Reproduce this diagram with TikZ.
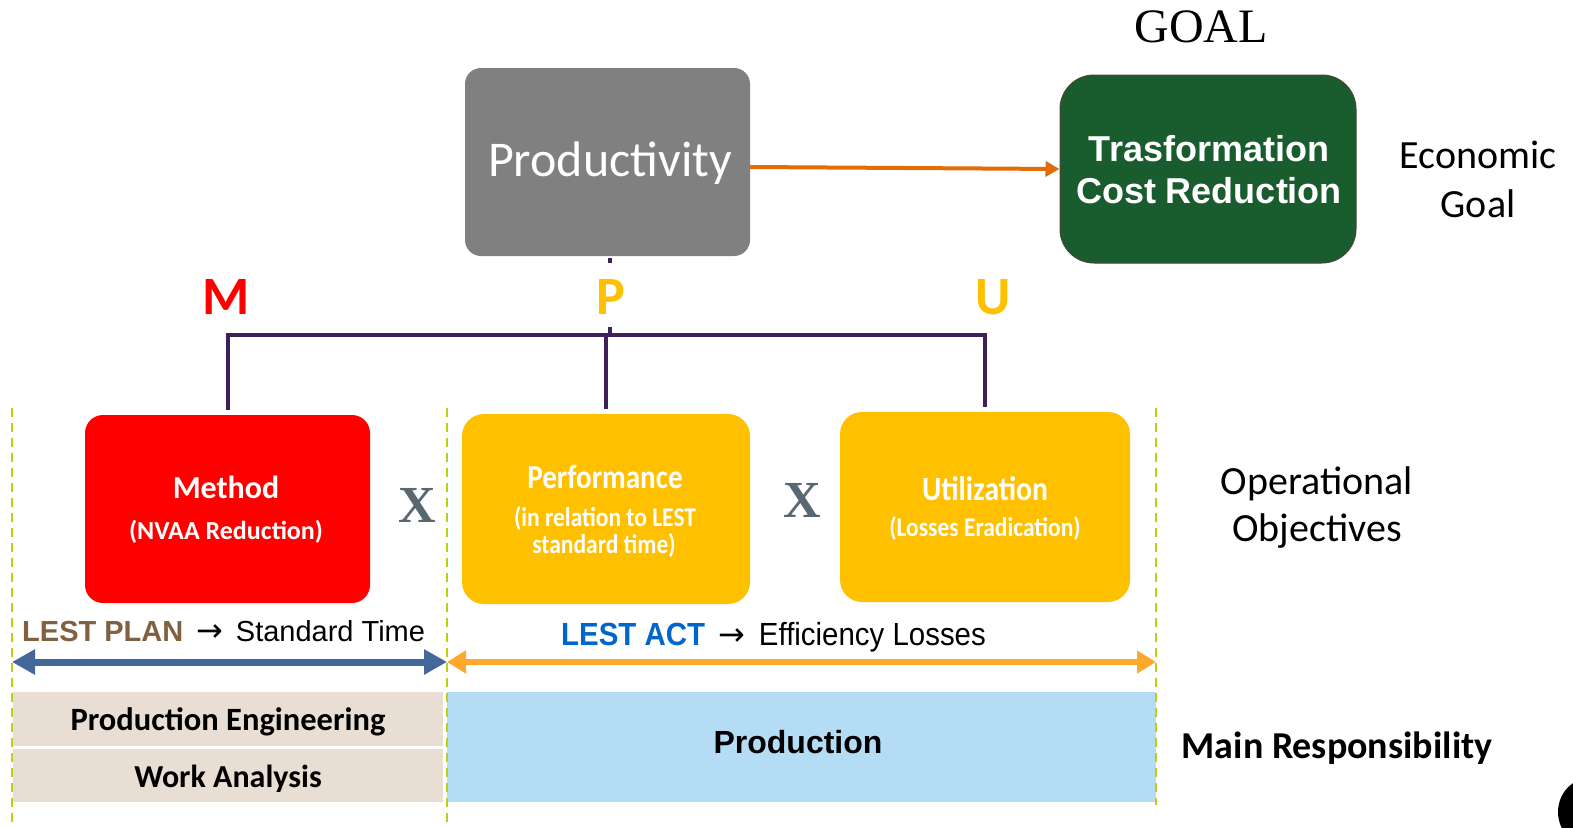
\documentclass[tikz,border=0pt]{standalone}
\usepackage{fontspec}
\setmainfont{Carlito}
\newfontfamily\arialf{Liberation Sans}
\newfontfamily\arialnf[FakeStretch=0.92]{Liberation Sans}
\newfontfamily\tnrf{Liberation Serif}
\newfontfamily\carlcf[FakeStretch=0.87]{Carlito}
\newfontfamily\symf{DejaVu Sans}
\usetikzlibrary{arrows.meta}
\newcommand\fsz[2]{\fontsize{#1}{#2}\selectfont}
\definecolor{prodgray}{RGB}{128,128,128}
\definecolor{goalgreen}{RGB}{25,92,46}
\definecolor{goalborder}{RGB}{75,70,55}
\definecolor{arrorange}{RGB}{226,108,10}
\definecolor{brpurple}{RGB}{64,32,88}
\definecolor{myyellow}{RGB}{255,192,0}
\definecolor{dashgreen}{RGB}{185,208,20}
\definecolor{planblue}{RGB}{68,103,154}
\definecolor{actorange}{RGB}{255,168,46}
\definecolor{beige}{RGB}{232,222,211}
\definecolor{lightblue}{RGB}{180,220,245}
\definecolor{planbrown}{RGB}{128,96,64}
\definecolor{actblue}{RGB}{0,102,204}
\definecolor{xgray}{RGB}{89,103,112}
\begin{document}
\begin{tikzpicture}[x=1pt,y=-1pt,
  box/.style={rounded corners=#1, inner sep=0pt, draw=none},
  box/.default=18pt,
  bracket/.style={draw=brpurple, line width=4pt},
  vdash/.style={draw=dashgreen, line width=2pt, dash pattern=on 9pt off 6pt},
  lbl/.style={inner sep=0pt, align=center},
  wlbl/.style={inner sep=0pt, text=white},
  bigx/.style={inner sep=0pt, text=xgray, font=\tnrf\bfseries\fsz{52}{52}},
  letter/.style={inner sep=0pt, font=\bfseries\fsz{54}{54}},
  band/.style={inner sep=0pt, draw=none}
]
\path[use as bounding box] (0,0) rectangle (1573,827);
\clip (0,0) rectangle (1573,827);
\fill[white] (0,0) rectangle (1573,827);

% top row
\node[lbl, font=\tnrf\fsz{48}{48}] (goaltitle) at (1201,27) {GOAL};
\node[box=16pt, fill=prodgray, minimum width=285pt, minimum height=188pt] (prod) at (607.5,162) {};
\node[wlbl, font=\fsz{50}{50}] (prodtext) at (610,163) {Productivity};
\node[box=34pt, fill=goalgreen, draw=goalborder, line width=1pt, minimum width=296pt, minimum height=188pt] (goal) at (1208,169) {};
\node[wlbl, align=center, font=\arialf\bfseries\fsz{36}{42}] (goaltext) at (1209,170) {Trasformation\\Cost Reduction};
\node[lbl, font=\fsz{40}{49}] (econ) at (1478,179) {Economic\\Goal};
\draw[draw=arrorange, line width=4pt, -{Triangle[length=14pt,width=15pt]}] ([yshift=-5pt]prod.east) -- (goal.west);

% letters
\node[letter, text=red] (mlet) at (226,297) {M};
\node[letter, text=myyellow] (plet) at (611,297) {P};
\node[letter, text=myyellow] (ulet) at (993,297) {U};

% operational boxes
\node[box=18pt, fill=red, minimum width=285pt, minimum height=188pt] (meth) at (227.5,509) {};
\node[wlbl, font=\bfseries\fsz{32}{32}] (methA) at (226,487) {Method};
\node[wlbl, font=\bfseries\fsz{26}{26}] (methB) at (226,532) {(NVAA Reduction)};
\node[box=22pt, fill=myyellow, minimum width=288pt, minimum height=190pt] (perf) at (606,509) {};
\node[wlbl, font=\carlcf\bfseries\fsz{33.5}{33.5}] (perfA) at (605,477) {Performance};
\node[wlbl, font=\carlcf\bfseries\fsz{27}{27}] (perfB) at (605,519) {(in relation to LEST};
\node[wlbl, font=\carlcf\bfseries\fsz{27}{27}] (perfC) at (604,546) {standard time)};
\node[box=22pt, fill=myyellow, minimum width=290pt, minimum height=190pt] (util) at (985,507) {};
\node[wlbl, font=\carlcf\bfseries\fsz{34}{34}] (utilA) at (985,489) {Utilization};
\node[wlbl, font=\carlcf\bfseries\fsz{27}{27}] (utilB) at (985,529) {(Losses Eradication)};
\node[bigx] (x1) at (417,505) {X};
\node[bigx] (x2) at (802,500) {X};
\node[lbl, font=\fsz{40}{47}] (opobj) at (1317,508) {Operational\\Objectives};

% bracket
\coordinate (bar) at (0,335);
\draw[bracket] ([yshift=5pt]meth.north) -- (meth.north |- bar) -- (util.north |- bar) -- ([yshift=5pt]util.north);
\draw[bracket] ([yshift=5pt]perf.north) -- (perf.north |- bar);
\draw[bracket] ([xshift=2pt,yshift=-2pt]prod.south) -- ([xshift=2pt,yshift=-7pt]prod.south);
\draw[bracket] ([xshift=2pt]prod.south |- bar) -- ++(0,-8);

% LEST labels
\node[inner sep=0pt, anchor=base west, font=\arialf\fsz{29}{29}] (plan) at (22,641)
  {\textcolor{planbrown}{\bfseries LEST PLAN} \,{\symf\fsz{32}{32}→}\, Standard Time};
\node[inner sep=0pt, anchor=base west, font=\arialnf\fsz{32}{32}] (act) at (561,645)
  {\textcolor{actblue}{\bfseries LEST ACT} \,{\symf\fsz{32}{32}→}\, Efficiency Losses};

% double arrows
\coordinate (aL) at (12,662);
\coordinate (aM) at (447,662);
\coordinate (aR) at (1156,662);
\draw[draw=planblue, line width=7pt, {Triangle[length=23pt,width=24pt]}-{Triangle[length=23pt,width=24pt]}] (aL) -- (aM);
\draw[draw=actorange, line width=6pt, {Triangle[length=19pt,width=22pt]}-{Triangle[length=19pt,width=22pt]}] (aM) -- (aR);

% responsibility bands
\node[band, fill=beige, minimum width=430pt, minimum height=54pt] (pe) at (228,719) {};
\node[band, fill=beige, minimum width=430pt, minimum height=53pt] (wa) at (228,775.5) {};
\node[band, fill=lightblue, minimum width=709pt, minimum height=110pt] (prodband) at (801.5,747) {};
\node[lbl, font=\bfseries\fsz{32.5}{32.5}] (petext) at (228,722) {Production Engineering};
\node[lbl, font=\bfseries\fsz{32}{32}] (watext) at (228,779) {Work Analysis};
\node[lbl, font=\arialf\bfseries\fsz{32}{32}] (prtext) at (798,742) {Production};
\node[lbl, font=\bfseries\fsz{38}{38}] (mainresp) at (1337,748) {Main Responsibility};

% dashed separators
\draw[vdash] (12,408) -- (12,827);
\draw[vdash] (447,408) -- (447,827);
\draw[vdash] (1156,408) -- (1156,805);

% corner blob
\fill[black] (1590,812) ellipse [x radius=32, y radius=34];
\end{tikzpicture}
\end{document}
